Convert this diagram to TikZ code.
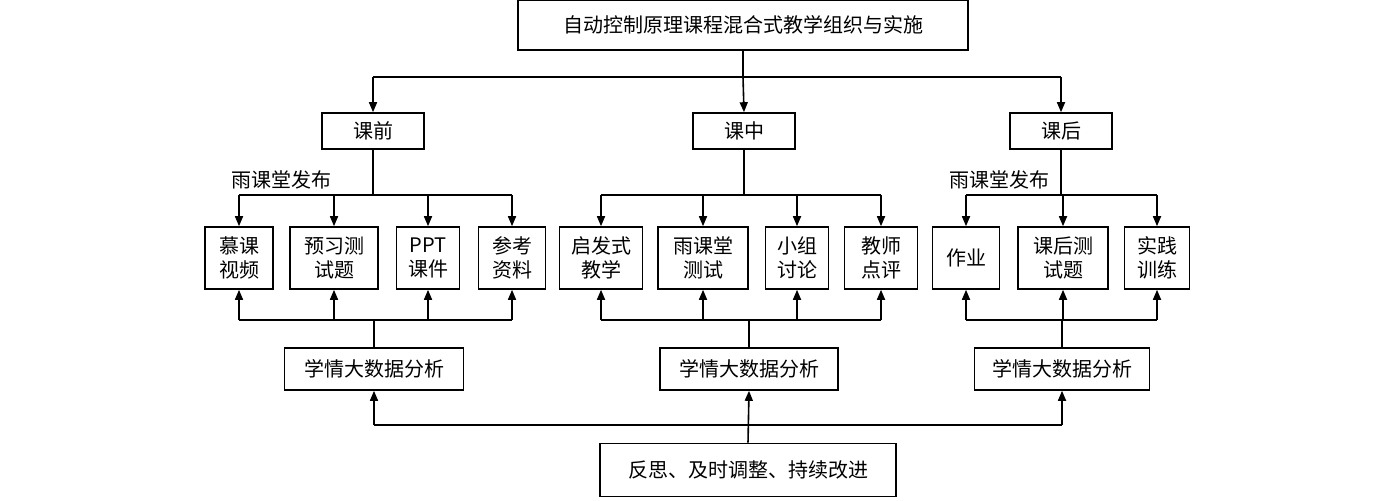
\documentclass[tikz,border=0pt]{standalone}
\usepackage{fontspec}
\newfontfamily\cjk{Noto Sans CJK SC}
\usetikzlibrary{arrows.meta}
\tikzset{
  box/.style={draw, thick, align=center, inner sep=0pt, font=\cjk\fontsize{10}{12}\selectfont},
  arr/.style={thick, -{Triangle[length=5pt,width=4pt]}},
  ln/.style={thick}
}
\begin{document}
\begin{tikzpicture}[x=0.5pt, y=-0.5pt]
  \useasboundingbox (0,0) rectangle (1395,500);
  % top levels
  \node[box, minimum width=225pt, minimum height=25pt] (title) at (743,25) {自动控制原理课程混合式教学组织与实施};
  \node[box, minimum width=51pt, minimum height=18pt] (pre) at (373,131) {课前};
  \node[box, minimum width=51pt, minimum height=18pt] (in) at (744,131) {课中};
  \node[box, minimum width=51pt, minimum height=18pt] (post) at (1061,131) {课后};
  \coordinate (t1) at (743,77);
  \draw[ln] (title.south) -- (t1);
  \draw[ln] (373,77) -- (1061,77);
  \draw[arr] (373,77) -- (pre.north);
  \draw[arr] (t1) -- (in.north);
  \draw[arr] (1061,77) -- (post.north);
  % activity boxes
  \foreach \name/\x/\w/\txt in {
      a1/239/34/{慕课\\视频}, a2/334/44/{预习测\\试题}, a3/428/31.5/{PPT\\课件}, a4/512/33.5/{参考\\资料},
      b1/601/41.5/{启发式\\教学}, b2/703/45/{雨课堂\\测试}, b3/797/31.5/{小组\\讨论}, b4/881/36.5/{教师\\点评},
      c1/966/33.5/{作业}, c2/1063/45/{课后测\\试题}, c3/1157/32.5/{实践\\训练}}
    \node[box, minimum width=\w pt, minimum height=31pt] (\name) at (\x,258) {\txt};
  % analysis boxes
  \node[box, minimum width=89.5pt, minimum height=21pt] (ana1) at (374,369) {学情大数据分析};
  \node[box, minimum width=89pt, minimum height=21pt] (ana2) at (749,369) {学情大数据分析};
  \node[box, minimum width=87.5pt, minimum height=21pt] (ana3) at (1062,369) {学情大数据分析};
  \node[box, minimum width=148pt, minimum height=26.5pt] (fb) at (748,470) {反思、及时调整、持续改进};
  % downward fans
  \draw[ln] (pre.south) -- (373,195);
  \draw[ln] (239,195) -- (512,195);
  \foreach \n/\x in {a1/239,a2/334,a3/428,a4/512} \draw[arr] (\x,195) -- (\n.north);
  \draw[ln] (in.south) -- (744,195);
  \draw[ln] (601,195) -- (881,195);
  \foreach \n/\x in {b1/601,b2/703,b3/797,b4/881} \draw[arr] (\x,195) -- (\n.north);
  \draw[ln] (post.south) -- (1061,195);
  \draw[ln] (966,195) -- (1157,195);
  \foreach \n/\x in {c1/966,c2/1063,c3/1157} \draw[arr] (\x,195) -- (\n.north);
  \node[font=\cjk\fontsize{10}{12}\selectfont] (rain1) at (281,180) {雨课堂发布};
  \node[font=\cjk\fontsize{10}{12}\selectfont] (rain2) at (999,180) {雨课堂发布};
  % upward fans
  \draw[ln] (ana1.north) -- (374,320);
  \draw[ln] (239,320) -- (512,320);
  \foreach \n/\x in {a1/239,a2/334,a3/428,a4/512} \draw[arr] (\x,320) -- (\n.south);
  \draw[ln] (ana2.north) -- (749,320);
  \draw[ln] (601,320) -- (881,320);
  \foreach \n/\x in {b1/601,b2/703,b3/797,b4/881} \draw[arr] (\x,320) -- (\n.south);
  \draw[ln] (ana3.north) -- (1062,320);
  \draw[ln] (966,320) -- (1157,320);
  \foreach \n/\x in {c1/966,c2/1063,c3/1157} \draw[arr] (\x,320) -- (\n.south);
  % feedback
  \draw[arr] (fb.north) -- (ana2.south);
  \draw[ln] (374,425) -- (1062,425);
  \draw[arr] (374,425) -- (ana1.south);
  \draw[arr] (1062,425) -- (ana3.south);
\end{tikzpicture}
\end{document}
